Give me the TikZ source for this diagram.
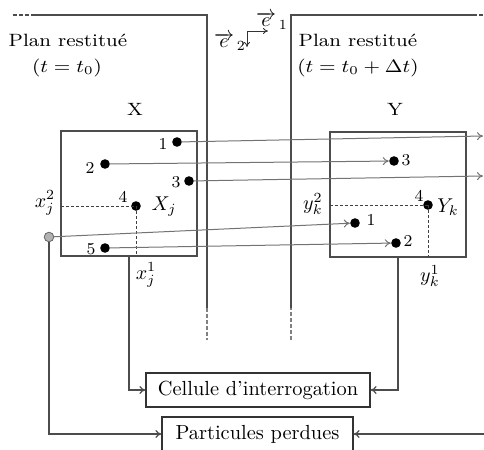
\documentclass[tikz,border=0pt]{standalone}
\usetikzlibrary{arrows.meta}
\newcommand{\hst}[1]{\scalebox{1.15}[1]{#1}}
\begin{document}
\begin{tikzpicture}[x=0.5pt,y=-0.5pt,
  frame/.style={draw=black!70, line width=0.6pt},
  conn/.style={draw=black!55, line width=0.5pt},
  arr/.style={conn, -{To[length=3pt,width=4pt]}},
  dot/.style={circle, fill=black, inner sep=0pt, minimum size=4.8pt},
  gdot/.style={circle, fill=black!30, draw=black!60, line width=0.4pt, inner sep=0pt, minimum size=4.8pt},
  num/.style={font=\fontsize{8.3}{9}\selectfont, inner sep=0pt},
  mlbl/.style={font=\fontsize{9.8}{10}\selectfont, inner sep=0pt},
  ttl/.style={font=\fontsize{8.9}{10}\selectfont, inner sep=0pt},
  guide/.style={draw=black!75, dash pattern=on 1.5pt off 1pt, line width=0.4pt},
  pbox/.style={frame, inner sep=0pt, minimum width=68pt, minimum height=62.5pt},
  cellbox/.style={draw=black!80, line width=0.6pt, inner sep=0pt, font=\fontsize{10.2}{12}\selectfont}
]
\useasboundingbox (0,0) rectangle (484,450);

% planes
\draw[frame, dash pattern=on 2pt off 1pt] (13,15) -- (32,15);
\draw[frame] (32,15) -- (207,15) -- (207,308);
\draw[frame, draw=black!50, dash pattern=on 2pt off 1pt] (207,308) -- (207,340);
\draw[frame, draw=black!50, dash pattern=on 2pt off 1pt] (291,340) -- (291,308);
\draw[frame] (291,308) -- (291,15) -- (473,15);
\draw[frame, dash pattern=on 2pt off 1pt] (473,15) -- (484,15);

% axes
\coordinate (o) at (247,31);
\coordinate (a1) at (268,31);
\coordinate (a2) at (247,47);
\draw[draw=black!80, line width=0.4pt, -{To[length=2.5pt,width=3pt]}] (o) -- (a1);
\draw[draw=black!80, line width=0.4pt, -{To[length=2.5pt,width=3pt]}] (o) -- (a2);
\node[mlbl] (e1) at (272,21) {$\overrightarrow{e}_{\,1}$};
\node[mlbl] (e2) at (230,42) {$\overrightarrow{e}_{\,2}$};

% titles
\node[ttl] (pl) at (68,40) {\hst{Plan restitué}};
\node[ttl] (tl) at (67,68) {\hst{$(t=t_0)$}};
\node[ttl] (pr) at (358,40) {\hst{Plan restitué}};
\node[ttl] (tr) at (358,68) {\hst{$(t=t_0+\Delta t)$}};
\node[ttl] (lX) at (135,109) {\hst{X}};
\node[ttl] (lY) at (395,109) {\hst{Y}};

% boxes
\node[pbox] (X) at (129,193.5) {};
\node[pbox] (Y) at (398,194.5) {};

% points in X
\node[dot] (x1) at (177,142) {};
\node[dot] (x2) at (105,164) {};
\node[dot] (x3) at (189,181) {};
\node[dot] (x4) at (136,206) {};
\node[dot] (x5) at (105,248) {};
\node[gdot] (gc) at (49,237) {};
\node[num] (n1) at (163,144) {1};
\node[num] (n2) at (90,168) {2};
\node[num] (n3) at (176,182) {3};
\node[num] (n4) at (123,197) {4};
\node[num] (n5) at (91,249) {5};
\node[mlbl] (Xj) at (164,207) {$X_j$};
\node[mlbl] (xj2) at (45,203) {$x_j^2$};
\node[mlbl] (xj1) at (146,275) {$x_j^1$};

% points in Y
\node[dot] (y3) at (394,161) {};
\node[dot] (y4) at (428,205) {};
\node[dot] (y1) at (355,223) {};
\node[dot] (y2) at (396,243) {};
\node[num] (m3) at (406,160) {3};
\node[num] (m4) at (419,196) {4};
\node[num] (m1) at (371,220) {1};
\node[num] (m2) at (408,241) {2};
\node[mlbl] (Yk) at (448,207) {$Y_k$};
\node[mlbl] (yk2) at (313,204) {$y_k^2$};
\node[mlbl] (yk1) at (430,276) {$y_k^1$};

% guides
\coordinate (gxl) at (61,206);
\coordinate (gxb) at (136,256);
\coordinate (gyl) at (330,205);
\coordinate (gyb) at (428,257);
\draw[guide] (gxl) -- (x4.center);
\draw[guide] (x4.center) -- (gxb);
\draw[guide] (gyl) -- (y4.center);
\draw[guide] (y4.center) -- (gyb);

% displacement arrows
\coordinate (out1) at (483,136);
\coordinate (out3) at (483,176);
\draw[arr] (x1) -- (out1);
\draw[arr] (x3) -- (out3);
\draw[arr] (x2) -- (y3);
\draw[arr] (x5) -- (y2);
\draw[arr] (gc) -- (y1);

% lower boxes
\node[cellbox, minimum width=112pt, minimum height=17pt] (cell) at (258,390) {Cellule d'interrogation};
\node[cellbox, minimum width=95.5pt, minimum height=17pt] (lost) at (257.5,434) {Particules perdues};

\coordinate (xb) at (129,256);
\coordinate (yb) at (398,257);
\coordinate (re) at (484,434);
\draw[frame, -{To[length=3pt,width=4pt]}] (xb) |- (cell.west);
\draw[frame, -{To[length=3pt,width=4pt]}] (yb) |- (cell.east);
\draw[frame, -{To[length=3pt,width=4pt]}] (gc) |- (lost.west);
\draw[frame, -{To[length=3pt,width=4pt]}] (re) -- (lost.east);
\end{tikzpicture}
\end{document}
